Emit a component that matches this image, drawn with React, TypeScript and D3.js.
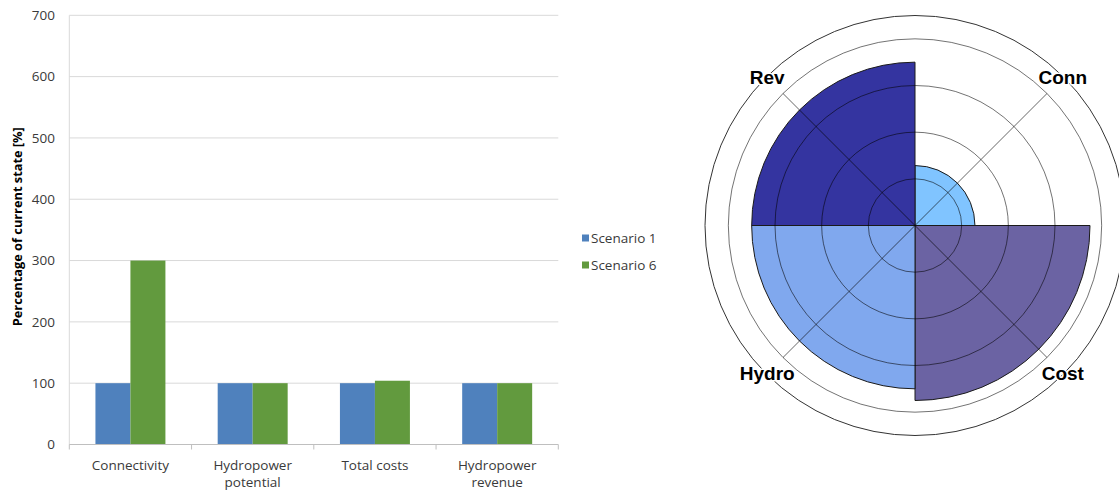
import React from 'react';
import * as d3 from 'd3';

// ---- Bar chart data ----
const categories = ['Connectivity', 'Hydropower potential', 'Total costs', 'Hydropower revenue'];
const categoryLabelLines = [['Connectivity'], ['Hydropower', 'potential'], ['Total costs'], ['Hydropower', 'revenue']];
const seriesNames = ['Scenario 1', 'Scenario 6'];
const scenario1 = [100, 100, 100, 100];
const scenario6 = [300, 100, 104, 100];
const yTicks = [0, 100, 200, 300, 400, 500, 600, 700];

// ---- Polar chart data ----
const polarAxes = ['Conn', 'Cost', 'Hydro', 'Rev'];
const polarValues = [25.7, 75, 70, 70];
const polarRings = [20, 40, 60, 80];
const polarMax = 90;

// ---- styles ----
const seriesColors = ['#4F81BD', '#629A3E'];
const wedgeColors = ['#80C4FF', '#6B63A3', '#80A8EE', '#3434A0'];
const barFont = "'Open Sans', sans-serif";
const polarFont = "'Liberation Sans', Arial, sans-serif";

export default function App() {
  // bar chart geometry
  const plotLeft = 69.3, plotRight = 558.3, plotTop = 15.3, plotBottom = 444.5;
  const y = d3.scaleLinear().domain([0, 700]).range([plotBottom, plotTop]);
  const x0 = d3.scaleBand<string>().domain(categories).range([plotLeft, plotRight])
    .paddingInner(0.4276).paddingOuter(0.2138);
  const x1 = d3.scaleBand<string>().domain(seriesNames).range([0, x0.bandwidth()]);
  const series = [scenario1, scenario6];
  const step = x0.step();
  const boundaries = d3.range(categories.length + 1).map(i => plotLeft + i * step);

  // polar geometry
  const cx = 915, cy = 225.5;
  const r = d3.scaleLinear().domain([0, polarMax]).range([0, 210]);
  const n = polarAxes.length;
  const sector = (2 * Math.PI) / n;
  const arc = d3.arc<any>();

  return (
    <svg width={1119} height={495} style={{ position: 'absolute', left: 0, top: 0, background: '#fff' }}>
      {/* ===== Bar chart ===== */}
      <g>
        {yTicks.filter(t => t > 0).map(t => (
          <line key={'g' + t} x1={plotLeft} x2={plotRight} y1={y(t)} y2={y(t)} stroke="#D9D9D9" strokeWidth={1} />
        ))}
        <line x1={plotLeft} x2={plotLeft} y1={plotTop} y2={plotBottom} stroke="#D9D9D9" strokeWidth={1} />
        {yTicks.map(t => (
          <text key={'t' + t} x={55} y={y(t)} dy="0.35em" textAnchor="end" fontFamily={barFont} fontSize={13.5} fill="#3a3a3a">{t}</text>
        ))}
        {categories.map((c, i) => (
          <g key={c}>
            {series.map((s, j) => (
              <rect key={j} x={(x0(c) as number) + (x1(seriesNames[j]) as number)} width={x1.bandwidth()}
                y={y(s[i])} height={y(0) - y(s[i])} fill={seriesColors[j]} />
            ))}
          </g>
        ))}
        <line x1={plotLeft} x2={plotRight} y1={plotBottom} y2={plotBottom} stroke="#BFBFBF" strokeWidth={1} />
        {boundaries.map((b, i) => (
          <line key={'b' + i} x1={b} x2={b} y1={plotBottom} y2={plotBottom + 5} stroke="#BFBFBF" strokeWidth={1} />
        ))}
        {categories.map((c, i) => (
          <text key={'l' + c} x={(x0(c) as number) + x0.bandwidth() / 2} y={469.5} textAnchor="middle" fontFamily={barFont} fontSize={13.5} fill="#3a3a3a">
            {categoryLabelLines[i].map((ln, k) => (
              <tspan key={k} x={(x0(c) as number) + x0.bandwidth() / 2} dy={k === 0 ? 0 : 17.5}>{ln}</tspan>
            ))}
          </text>
        ))}
        <text transform={`translate(22,226.7) rotate(-90)`} textAnchor="middle" fontFamily={barFont} fontSize={12.8} fontWeight="bold" fill="#000">
          Percentage of current state [%]
        </text>
        {seriesNames.map((s, j) => (
          <g key={s} transform={`translate(582,${238 + j * 27})`}>
            <rect x={0} y={-3.5} width={7} height={7} fill={seriesColors[j]} />
            <text x={9} y={0} dy="0.35em" fontFamily={barFont} fontSize={13.5} fill="#3a3a3a">{s}</text>
          </g>
        ))}
      </g>

      {/* ===== Polar chart ===== */}
      <g transform={`translate(${cx},${cy})`}>
        {polarAxes.map((a, i) => (
          <path key={'w' + a}
            d={arc({ innerRadius: 0, outerRadius: r(polarValues[i]), startAngle: i * sector, endAngle: (i + 1) * sector }) as string}
            fill={wedgeColors[i]} stroke="#1a1a1a" strokeWidth={1} />
        ))}
        {polarRings.map(v => (
          <circle key={'r' + v} r={r(v)} fill="none" stroke="rgba(0,0,0,0.55)" strokeWidth={1} />
        ))}
        <circle r={r(polarMax)} fill="none" stroke="#333" strokeWidth={1} />
        {polarAxes.map((a, i) => {
          const ang = i * sector + sector / 2;
          const len = r(polarRings[polarRings.length - 1]);
          return (
            <line key={'s' + a} x1={0} y1={0} x2={Math.sin(ang) * len} y2={-Math.cos(ang) * len}
              stroke="rgba(0,0,0,0.6)" strokeWidth={1} />
          );
        })}
        {polarAxes.map((a, i) => {
          const ang = i * sector + sector / 2;
          const lr = r(polarMax) - 1;
          return (
            <text key={'t' + a} x={Math.sin(ang) * lr} y={-Math.cos(ang) * lr} dy="0.35em" textAnchor="middle"
              fontFamily={polarFont} fontSize={19} fontWeight="bold" fill="#000"
              stroke="#fff" strokeWidth={3} paintOrder="stroke" strokeLinejoin="round">{a}</text>
          );
        })}
      </g>
    </svg>
  );
}
